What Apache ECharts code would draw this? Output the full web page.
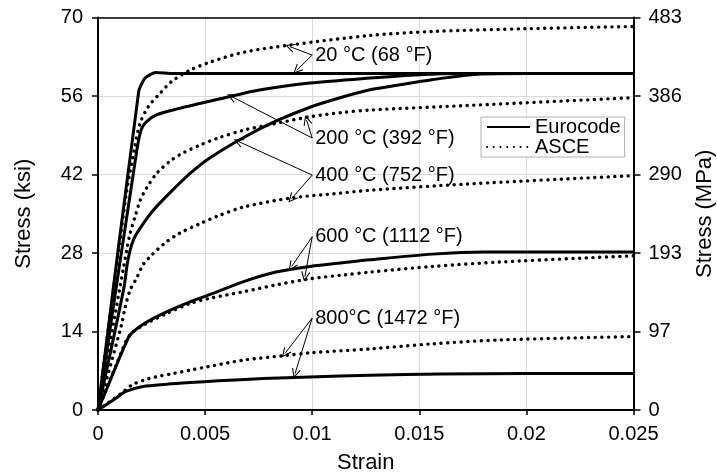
<!DOCTYPE html>
<html><head><meta charset="utf-8">
<script src="https://cdn.jsdelivr.net/npm/echarts@6/dist/echarts.min.js"></script>
<style>html,body{margin:0;padding:0;background:#fff}#c{width:717px;height:476px}</style>
</head><body><div id="c"></div>
<script>
// ---- data (strain, stress in ksi) ----
const ksiTicks = [0, 14, 28, 42, 56, 70];
const mpaTicks = [0, 97, 193, 290, 386, 483];

const eurocode20 = [[0,0],[0.0019,56.8],[0.0022,59.2],[0.0027,60.2],[0.0035,60.0],[0.025,60.0]];
const eurocode200 = [[0,0],[0.0018,46.0],[0.0020,49.8],[0.0022,51.2],[0.0027,52.6],[0.0038,53.8],[0.0048,54.7],[0.0057,55.5],[0.0076,57.1],[0.0099,58.3],[0.0127,59.2],[0.0150,59.8],[0.0170,60.0],[0.025,60.0]];
const eurocode400 = [[0,0],[0.0012,21.6],[0.0014,26.8],[0.00165,30.3],[0.0020,32.6],[0.0026,35.7],[0.0034,38.9],[0.0043,42.2],[0.0052,44.9],[0.0068,48.6],[0.0083,51.5],[0.0099,54.0],[0.0115,55.9],[0.0127,57.1],[0.0141,58.0],[0.0156,58.9],[0.0177,59.9],[0.0200,60.0],[0.025,60.0]];
const eurocode600 = [[0,0],[0.0011,10.2],[0.0013,11.9],[0.0015,13.4],[0.0022,15.5],[0.0032,17.5],[0.0043,19.3],[0.0053,20.7],[0.0068,22.9],[0.0083,24.6],[0.0099,25.6],[0.0115,26.3],[0.0127,26.8],[0.0156,27.8],[0.0180,28.2],[0.025,28.2]];
const eurocode800 = [[0,0],[0.0008,2.0],[0.0013,3.3],[0.0021,4.2],[0.0032,4.6],[0.0043,4.9],[0.0056,5.2],[0.0077,5.6],[0.0099,5.9],[0.0127,6.2],[0.0160,6.4],[0.0200,6.5],[0.025,6.5]];

const asce20 = [[0,0],[0.0013,38.0],[0.0017,46.5],[0.00196,51.1],[0.00235,54.1],[0.0029,56.5],[0.00344,58.6],[0.0043,60.6],[0.0052,62.0],[0.0068,63.8],[0.0090,65.1],[0.0127,66.8],[0.0156,67.5],[0.0200,68.0],[0.025,68.4]];
const asce200 = [[0,0],[0.0012,25.6],[0.00134,28.5],[0.0015,31.5],[0.00173,34.5],[0.00196,37.3],[0.00227,39.6],[0.00274,42.2],[0.0034,44.5],[0.0040,45.9],[0.0048,47.3],[0.0056,48.5],[0.0068,49.9],[0.0083,51.1],[0.0099,52.3],[0.0115,53.1],[0.0127,53.5],[0.0172,54.3],[0.025,55.7]];
const asce400 = [[0,0],[0.0011,15.2],[0.00126,18.2],[0.0015,21.4],[0.0018,23.5],[0.0021,25.9],[0.0025,27.6],[0.0031,29.7],[0.0038,31.5],[0.0048,33.3],[0.0056,34.6],[0.0068,36.2],[0.0090,37.8],[0.0111,38.6],[0.0127,39.2],[0.0172,40.3],[0.025,41.8]];
const asce600 = [[0,0],[0.0011,10.4],[0.0013,12.2],[0.0016,13.8],[0.0022,15.3],[0.0032,17.2],[0.0043,19.0],[0.0052,19.9],[0.0068,21.1],[0.0083,22.3],[0.0099,23.4],[0.0115,24.1],[0.0127,24.6],[0.0156,25.6],[0.0188,26.4],[0.025,27.5]];
const asce800 = [[0,0],[0.0011,3.0],[0.0016,4.5],[0.0022,5.4],[0.0027,5.9],[0.0035,6.5],[0.0043,7.1],[0.0051,7.7],[0.0068,8.9],[0.0087,9.7],[0.0099,10.2],[0.0127,10.9],[0.0156,11.8],[0.0188,12.5],[0.025,13.1]];

const tempLabels = ['20 °C (68 °F)', '200 °C (392 °F)', '400 °C (752 °F)', '600 °C (1112 °F)', '800°C (1472 °F)'];
// annotation anchors (data coordinates)
const labelAnchors = [[0.0100,63.3],[0.0100,48.5],[0.0100,41.9],[0.0100,30.9],[0.0100,16.4]];
const arrowTips = [
  [[0.00896,64.8],[0.00928,60.6]],
  [[0.00624,55.9],[0.00974,51.7]],
  [[0.00655,47.9],[0.00904,37.7]],
  [[0.00904,25.6],[0.00966,23.8]],
  [[0.00873,10.1],[0.00920,6.5]]
];

const FONT = '"Liberation Sans", Arial, sans-serif';
const chart = echarts.init(document.getElementById('c'), null, {renderer: 'canvas'});

const solid = {color: '#000', width: 3};
const dotted = {color: '#000', width: 3.4, type: [0.1, 6.6], cap: 'round'};
function mk(name, data, ls, sm) {
  return {name, type: 'line', data, symbol: 'none', smooth: sm,
    lineStyle: ls, itemStyle: {color: '#000'}, silent: true, z: 3};
}
const chevron = 'path://M5,0 L10,10.5 L9,11.2 L5,2.6 L1,11.2 L0,10.5 Z';
const arrowLines = [];
labelAnchors.forEach((a, i) => {
  arrowTips[i].forEach(t => arrowLines.push([{coord: a}, {coord: t}]));
});

chart.setOption({
  animation: false,
  backgroundColor: '#fff',
  textStyle: {fontFamily: FONT},
  grid: {left: 98, right: 83.5, top: 17.5, bottom: 66, containLabel: false, outerBoundsMode: 'none'},
  legend: {
    data: ['Eurocode', 'ASCE'], orient: 'vertical', left: 481, top: 117,
    padding: [0, 4, 0, 5], itemGap: 0, itemWidth: 43, itemHeight: 14,
    borderColor: '#b0b0b0', borderWidth: 1, backgroundColor: '#fff',
    itemStyle: {opacity: 0},
    textStyle: {fontSize: 20, lineHeight: 20, color: '#000', fontFamily: FONT}
  },
  xAxis: [{
    type: 'value', min: 0, max: 0.025, interval: 0.005,
    name: 'Strain', nameLocation: 'middle', nameGap: 42,
    nameTextStyle: {fontSize: 22, color: '#000', fontFamily: FONT},
    axisLine: {onZero: false, lineStyle: {color: '#000', width: 2}},
    axisTick: {show: true, length: 5, lineStyle: {color: '#000', width: 1.5}},
    axisLabel: {fontSize: 20, color: '#000', margin: 14, fontFamily: FONT},
    splitLine: {show: true, lineStyle: {color: '#dadada', width: 1}}
  }, {
    type: 'value', position: 'top', min: 0, max: 0.025, interval: 0.005,
    axisLine: {show: true, onZero: false, lineStyle: {color: '#000', width: 1.5}},
    axisTick: {show: false}, axisLabel: {show: false}, splitLine: {show: false}
  }],
  yAxis: [{
    type: 'value', position: 'left', min: 0, max: 70, interval: 14,
    name: 'Stress (ksi)', nameLocation: 'middle', nameGap: 63,
    nameTextStyle: {fontSize: 22, color: '#000', fontFamily: FONT},
    axisLine: {show: true, onZero: false, lineStyle: {color: '#000', width: 2}},
    axisTick: {show: true, length: 6, lineStyle: {color: '#000', width: 1.5}},
    axisLabel: {fontSize: 20, color: '#000', margin: 15, fontFamily: FONT},
    splitLine: {show: true, lineStyle: {color: '#dadada', width: 1}}
  }, {
    type: 'value', position: 'right', min: 0, max: 70, interval: 14,
    name: 'Stress (MPa)', nameLocation: 'middle', nameGap: 60,
    nameTextStyle: {fontSize: 22, color: '#000', fontFamily: FONT},
    axisLine: {show: true, onZero: false, lineStyle: {color: '#000', width: 2}},
    axisTick: {show: true, length: 7, lineStyle: {color: '#000', width: 1.5}},
    axisLabel: {fontSize: 20, color: '#000', margin: 15, fontFamily: FONT,
      formatter: v => String(mpaTicks[ksiTicks.indexOf(Math.round(v))])},
    splitLine: {show: false}
  }],
  series: [
    mk('Eurocode', eurocode20, solid, 0.2),
    mk('Eurocode', eurocode200, solid, 0.3),
    mk('Eurocode', eurocode400, solid, 0.3),
    mk('Eurocode', eurocode600, solid, 0.3),
    mk('Eurocode', eurocode800, solid, 0.3),
    mk('ASCE', asce20, dotted, 0.3),
    mk('ASCE', asce200, dotted, 0.3),
    mk('ASCE', asce400, dotted, 0.3),
    mk('ASCE', asce600, dotted, 0.3),
    mk('ASCE', asce800, dotted, 0.3),
    {
      name: 'arrows', type: 'line', data: [], silent: true, z: 4,
      markLine: {
        silent: true, animation: false, symbol: ['none', chevron], symbolSize: [9, 10],
        lineStyle: {color: '#000', width: 1, type: 'solid'},
        label: {show: false}, emphasis: {disabled: true},
        data: arrowLines
      }
    },
    {
      name: 'labels', type: 'scatter', silent: true, symbolSize: 0, z: 5,
      itemStyle: {color: '#000', opacity: 1},
      label: {show: true, position: 'right', distance: 3, fontSize: 20, color: '#000',
        opacity: 1, textBorderWidth: 0, fontFamily: FONT},
      data: labelAnchors.map((p, i) => ({value: p, label: {formatter: tempLabels[i]}}))
    }
  ]
});
</script>
</body></html>
